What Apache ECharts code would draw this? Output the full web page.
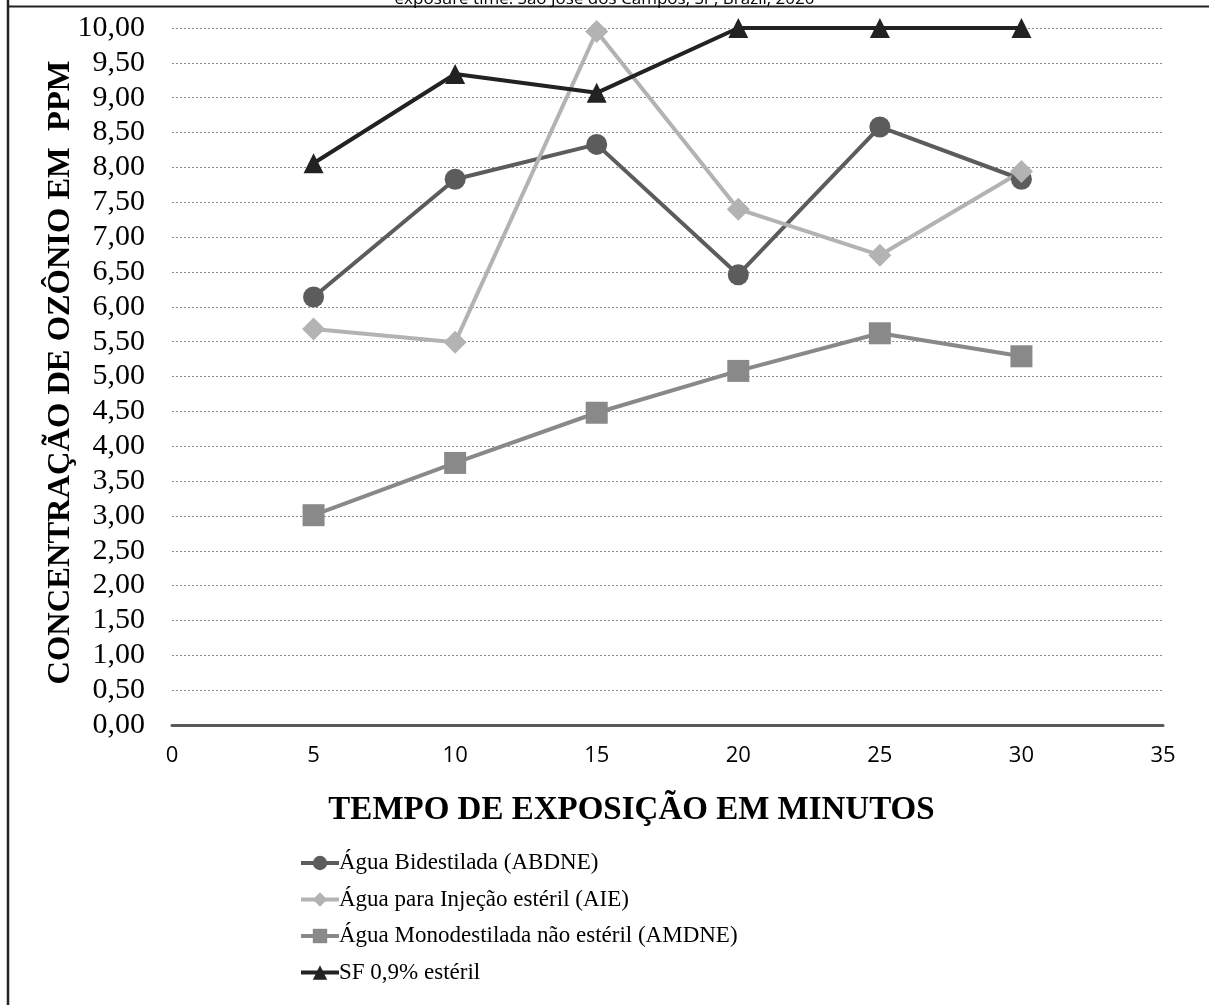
<!DOCTYPE html>
<html>
<head>
<meta charset="utf-8">
<script src="https://cdn.jsdelivr.net/npm/echarts@6/dist/echarts.min.js"></script>
<style>html,body{margin:0;padding:0;background:#fff;}#c{width:1209px;height:1005px;}</style>
</head>
<body>
<div id="c"></div>
<script>
var times = [5, 10, 15, 20, 25, 30];
var seriesNames = ['Água Bidestilada (ABDNE)', 'Água para Injeção estéril (AIE)', 'Água Monodestilada não estéril (AMDNE)', 'SF 0,9% estéril'];
var abdne = [6.14, 7.83, 8.33, 6.46, 8.58, 7.83];
var aie = [5.68, 5.49, 9.95, 7.40, 6.74, 7.94];
var amdne = [3.01, 3.76, 4.48, 5.08, 5.62, 5.29];
var sf = [8.06, 9.34, 9.07, 10.00, 10.00, 10.00];
var titleText = 'exposure time. São José dos Campos, SP, Brazil, 2020';
var xTitle = 'TEMPO DE EXPOSIÇÃO EM MINUTOS';
var yTitle = 'CONCENTRAÇÃO DE OZÔNIO EM  PPM';

function pairs(vals) { return times.map(function (t, i) { return [t, vals[i]]; }); }

var chart = echarts.init(document.getElementById('c'), null, { renderer: 'canvas' });
var serif = '"Liberation Serif", "Times New Roman", serif';
function mk(name, vals, color, symbol, size) {
  return {
    name: name, type: 'line', data: pairs(vals), symbol: symbol, symbolSize: size,
    lineStyle: { color: color, width: 4 }, itemStyle: { color: color, borderWidth: 0 },
    emphasis: { disabled: true }, animation: false
  };
}
chart.setOption({
  animation: false,
  backgroundColor: '#fff',
  title: {
    text: titleText, left: 'center', top: -14,
    textStyle: { fontFamily: '"Open Sans", sans-serif', fontSize: 17, fontWeight: 'normal', color: '#000' }
  },
  grid: { left: 172, right: 46, top: 28, bottom: 280, containLabel: false },
  xAxis: {
    type: 'value', min: 0, max: 35, interval: 5,
    name: xTitle, nameLocation: 'middle', nameGap: 69, nameMoveOverlap: false,
    nameTextStyle: { fontFamily: serif, fontSize: 33, fontWeight: 'bold', color: '#000', padding: [0, 72, 0, 0] },
    axisLine: { show: true, onZero: false, lineStyle: { color: '#595959', width: 3 } },
    axisTick: { show: false },
    splitLine: { show: false },
    axisLabel: { fontFamily: '"Open Sans", sans-serif', fontSize: 22, color: '#000', margin: 20 }
  },
  yAxis: {
    type: 'value', min: 0, max: 10, interval: 0.5,
    name: yTitle, nameLocation: 'middle', nameGap: 95, nameRotate: 90, nameMoveOverlap: false,
    nameTextStyle: { fontFamily: serif, fontSize: 32.5, fontWeight: 'bold', color: '#000', padding: [0, 0, 0, 8] },
    axisLine: { show: false }, axisTick: { show: false },
    splitLine: { show: true, lineStyle: { color: '#8a8a8a', width: 1, type: [2, 2] } },
    axisLabel: {
      fontFamily: serif, fontSize: 30, color: '#000', margin: 27,
      formatter: function (v) { return v.toFixed(2).replace('.', ','); }
    }
  },
  legend: {
    orient: 'vertical', left: 294, top: 844,
    itemWidth: 38, itemHeight: 18, itemGap: 8.5,
    lineStyle: { width: 4 },
    textStyle: { fontFamily: serif, fontSize: 23, color: '#000', lineHeight: 28, padding: [0, 0, 0, -5] },
    data: seriesNames
  },
  series: [
    mk(seriesNames[0], abdne, '#5c5c5c', 'circle', 21),
    mk(seriesNames[1], aie, '#b3b3b3', 'diamond', 23),
    mk(seriesNames[2], amdne, '#898989', 'rect', 22),
    mk(seriesNames[3], sf, '#222222', 'triangle', 20)
  ],
  graphic: [
    { type: 'line', shape: { x1: 8, y1: 0, x2: 8, y2: 1005 }, style: { stroke: '#222', lineWidth: 2.5 } },
    { type: 'line', shape: { x1: 7, y1: 6.5, x2: 1209, y2: 6.5 }, style: { stroke: '#222', lineWidth: 2 } }
  ]
});
</script>
</body>
</html>
